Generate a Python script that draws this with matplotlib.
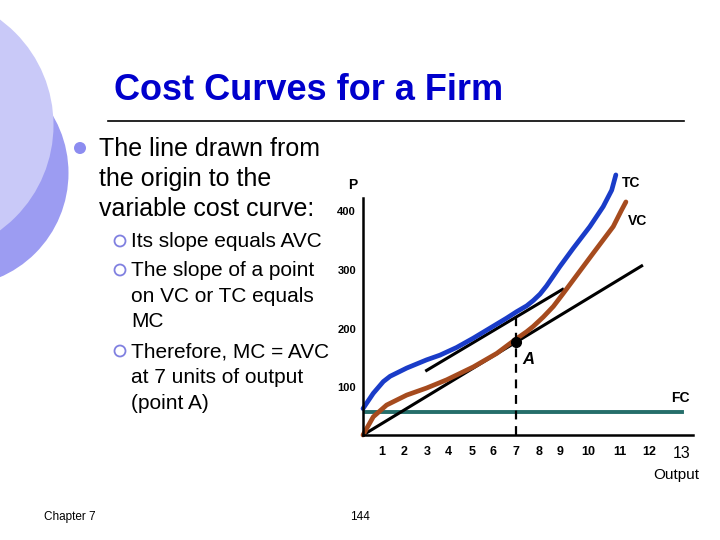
import numpy as np
import matplotlib.pyplot as plt
from matplotlib.patches import Circle

plt.rcParams['font.family'] = ['Liberation Sans', 'DejaVu Sans']

# curve points (x = output axis position, y = cost P)
tc_x = [0, 0.47, 0.93, 1.24, 2.0, 2.91, 3.52, 4.28, 5.05, 5.81, 6.57, 7.03, 7.49, 7.79, 8.1, 8.4, 9.01, 9.62, 10.38, 10.99, 11.38, 11.57]
tc_y = [45, 71, 91, 100, 114, 128, 136, 149, 165, 182, 199, 210, 220, 229, 240, 254, 287, 318, 355, 389, 417, 443]
vc_x = [0, 0.47, 1.08, 2.0, 2.91, 3.83, 5.05, 6.12, 6.95, 7.49, 7.79, 8.25, 8.71, 9.16, 9.62, 10.54, 11.45, 11.83, 12.03]
vc_y = [0, 31, 51, 68, 80, 94, 116, 139, 162, 176, 185, 201, 219, 241, 264, 310, 355, 383, 397]
fc_x = [0.14, 14.58]
fc_y = [40, 40]
ray_x = [0, 12.75]
ray_y = [0, 288]
tan_x = [2.91, 9.13]
tan_y = [110, 248]
point_a = (7, 158)
dash_top = 205

# axis labels (slide places them a bit off the true scale)
out_ticks = ['1', '2', '3', '4', '5', '6', '7', '8', '9', '10', '11', '12', '13']
out_pos = [0.87, 1.88, 2.93, 3.9, 4.99, 5.95, 7, 8.05, 9.0, 10.3, 11.75, 13.1, 14.6]
p_ticks = [100, 200, 300, 400]

fig = plt.figure(figsize=(7.2, 5.4), dpi=100)

# slide background in pixel coordinates
bg = fig.add_axes([0, 0, 1, 1])
bg.set_xlim(0, 720)
bg.set_ylim(540, 0)
bg.axis('off')
bg.add_patch(Circle((-45, 173), 113.5, color='#9c9cf2', lw=0))
bg.add_patch(Circle((-77, 125), 130.5, color='#c9c9f8', lw=0))

bg.text(309, 90, 'Cost Curves for a Firm', fontsize=26, fontweight='bold',
        color='#0000cc', ha='center', va='center')
bg.plot([108, 684], [120.5, 120.5], color='black', lw=1.2)

bg.add_patch(Circle((80, 148), 6, color='#8c8cf0', lw=0))
main_lines = ['The line drawn from', 'the origin to the', 'variable cost curve:']
for i, s in enumerate(main_lines):
    bg.text(99, 156 + 30 * i, s, fontsize=18, va='baseline', ha='left')

sub_items = [['Its slope equals AVC'],
             ['The slope of a point', 'on VC or TC equals', 'MC'],
             ['Therefore, MC = AVC', 'at 7 units of output', '(point A)']]
sub_base = [[247], [276, 302, 327], [357, 383, 409]]
for item, bases in zip(sub_items, sub_base):
    bg.add_patch(Circle((120, bases[0] - 6), 5.5, facecolor='white',
                        edgecolor='#8080e0', lw=1.3))
    for s, b in zip(item, bases):
        bg.text(131, b, s, fontsize=15, va='baseline', ha='left')

bg.text(44, 517, 'Chapter 7', fontsize=8.5, va='center', ha='left')
bg.text(360, 517, '144', fontsize=8.5, va='center', ha='center')

# chart
ax = fig.add_axes([363 / 720, 105 / 540, 330 / 720, 264.2 / 540])
ax.set_facecolor('none')
ax.set_xlim(0, 15.1)
ax.set_ylim(0, 450)
for side in ['top', 'right']:
    ax.spines[side].set_visible(False)
ax.spines['left'].set_bounds(0, 404)
ax.spines['left'].set_linewidth(1.8)
ax.spines['bottom'].set_linewidth(1.8)

ax.plot(fc_x, fc_y, color='#256e6a', lw=2.8, clip_on=False)
ax.plot(ray_x, ray_y, color='black', lw=2.2, clip_on=False)
ax.plot(tan_x, tan_y, color='black', lw=2.2, clip_on=False)
ax.plot(vc_x, vc_y, color='#a64b1e', lw=3.4, solid_capstyle='round',
        solid_joinstyle='round', clip_on=False)
ax.plot(tc_x, tc_y, color='#1a3cc8', lw=3.4, solid_capstyle='round',
        solid_joinstyle='round', clip_on=False)
ax.plot([point_a[0], point_a[0]], [0, dash_top], color='black', lw=1.6,
        ls=(0, (4, 3)))
ax.plot(*point_a, 'o', color='black', ms=7)

ax.set_xticks(out_pos, out_ticks, fontsize=9, fontweight='bold')
ax.xaxis.get_ticklabels()[-1].set_fontsize(11.5)
ax.xaxis.get_ticklabels()[-1].set_fontweight('normal')
ax.set_yticks(np.array(p_ticks) - 19, [str(v) for v in p_ticks],
              fontsize=8, fontweight='bold')
ax.tick_params(axis='x', length=0, pad=8)
ax.tick_params(axis='y', length=0, pad=5)

ax.text(11.85, 430, 'TC', fontsize=10, fontweight='bold', ha='left', va='center')
ax.text(12.1, 364, 'VC', fontsize=10, fontweight='bold', ha='left', va='center')
ax.text(14.1, 63, 'FC', fontsize=10, fontweight='bold', ha='left', va='center')
ax.text(7.3, 128, 'A', fontsize=12, fontweight='bold', style='italic',
        ha='left', va='center')
ax.text(-0.45, 425, 'P', fontsize=10, fontweight='bold', ha='center', va='center')
ax.text(14.35, -68, 'Output', fontsize=11, ha='center', va='center')

fig.savefig('out.png', dpi=100)
